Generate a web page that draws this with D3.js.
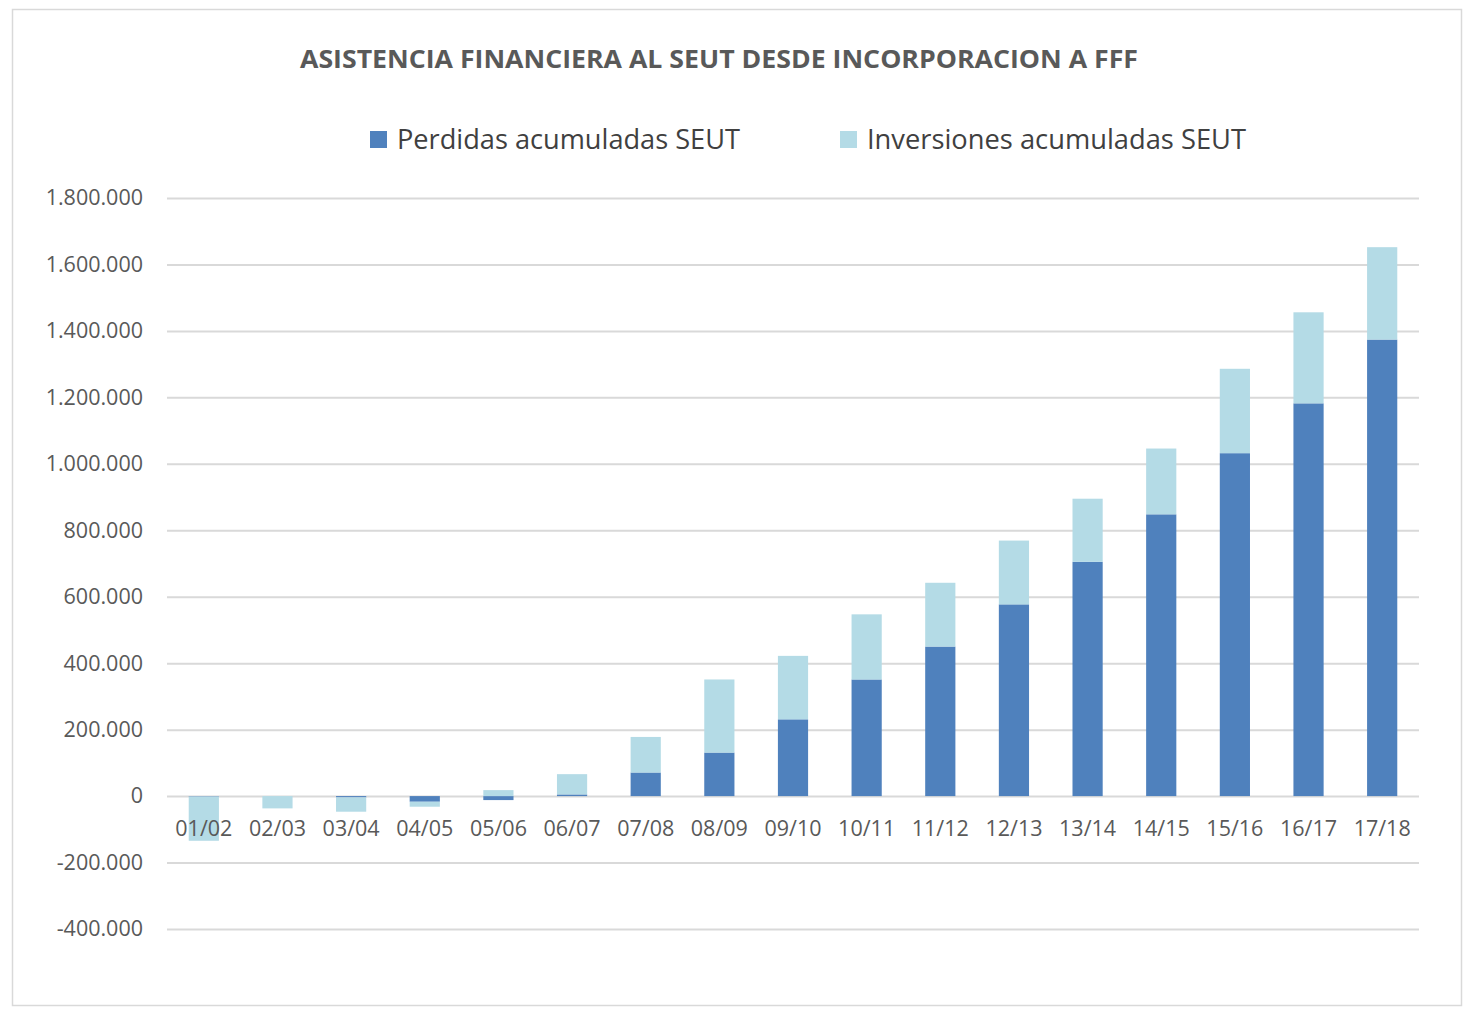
<!DOCTYPE html>
<html>
<head>
<meta charset="utf-8">
<script src="https://cdn.jsdelivr.net/npm/d3@7"></script>
<style>
    body { margin: 0; background: #fff; }
    svg text { font-family: "Open Sans", "Noto Sans", sans-serif; }
</style>
</head>
<body>
<div id="chart"></div>
<script>
// data
const temporadas = ["01/02", "02/03", "03/04", "04/05", "05/06", "06/07", "07/08", "08/09", "09/10",
    "10/11", "11/12", "12/13", "13/14", "14/15", "15/16", "16/17", "17/18"]
const perdidas = [-1500, 0, -4000, -17000, -12000, 5000, 71000, 131000, 231000,
    351000, 450000, 577000, 705000, 848000, 1032000, 1182000, 1374000]
const inversiones = [-133000, -37000, -43000, -15000, 18000, 61000, 107000, 220000, 191000,
    196000, 192000, 192000, 190000, 198000, 254000, 274000, 278000]
const yTicks = [-400000, -200000, 0, 200000, 400000, 600000, 800000, 1000000, 1200000, 1400000, 1600000, 1800000]
const seriesNames = ["Perdidas acumuladas SEUT", "Inversiones acumuladas SEUT"]

const colors = ["#4f81bd", "#b4dbe6"]

function drawChart() {
    const dims = {
        width: 1463,
        height: 1011,
        margin: { top: 198, right: 44, bottom: 82, left: 167 }
    }
    dims.boundedWidth = dims.width - dims.margin.left - dims.margin.right
    dims.boundedHeight = dims.height - dims.margin.top - dims.margin.bottom

    const svg = d3.select("#chart")
        .append("svg")
        .attr("width", dims.width)
        .attr("height", dims.height)

    // outer frame
    svg.append("rect")
        .attr("x", 12.5).attr("y", 9.5)
        .attr("width", 1449).attr("height", 996)
        .attr("fill", "#fff")
        .attr("stroke", "#d9d9d9")
        .attr("stroke-width", 1.5)

    const bounds = svg.append("g")
        .attr("transform", `translate(${dims.margin.left},${dims.margin.top})`)

    // table for the stack
    const table = temporadas.map((t, i) => ({
        temporada: t,
        perdidas: perdidas[i],
        inversiones: inversiones[i]
    }))

    const stacked = d3.stack()
        .keys(["perdidas", "inversiones"])
        .offset(d3.stackOffsetDiverging)(table)

    // scales
    const xScale = d3.scaleBand()
        .domain(temporadas)
        .range([0, dims.boundedWidth])
        .paddingInner(0.59)
        .paddingOuter(0.295)

    const yScale = d3.scaleLinear()
        .domain([-400000, 1800000])
        .range([dims.boundedHeight, 0])

    const fmt = v => d3.format(",")(v).replace(/,/g, ".").replace("−", "-")

    // gridlines
    const yAxis = bounds.append("g")
        .call(d3.axisLeft(yScale)
            .tickValues(yTicks)
            .tickSize(-dims.boundedWidth)
            .tickPadding(24)
            .tickFormat(fmt))
    yAxis.select(".domain").remove()
    yAxis.selectAll(".tick line")
        .attr("stroke", "#d9d9d9")
        .attr("stroke-width", 2)
    yAxis.selectAll(".tick text")
        .attr("fill", "#595959")
        .style("font-size", "21.5px")

    // bars
    bounds.append("g")
        .selectAll("g")
        .data(stacked)
        .join("g")
        .attr("fill", (d, i) => colors[i])
        .selectAll("rect")
        .data(d => d)
        .join("rect")
        .attr("x", d => xScale(d.data.temporada))
        .attr("width", xScale.bandwidth())
        .attr("y", d => yScale(Math.max(d[0], d[1])))
        .attr("height", d => Math.abs(yScale(d[0]) - yScale(d[1])))

    // category labels beside the zero line
    const xAxis = bounds.append("g")
        .attr("transform", `translate(0,${yScale(0)})`)
        .call(d3.axisBottom(xScale).tickSize(0).tickPadding(25))
    xAxis.select(".domain").remove()
    xAxis.selectAll(".tick text")
        .attr("fill", "#595959")
        .style("font-size", "21.5px")

    // title
    svg.append("text")
        .attr("x", 719)
        .attr("y", 68)
        .attr("text-anchor", "middle")
        .attr("fill", "#595959")
        .style("font-size", "25px")
        .style("font-weight", 700)
        .attr("textLength", 838)
        .attr("lengthAdjust", "spacingAndGlyphs")
        .text("ASISTENCIA FINANCIERA AL SEUT DESDE INCORPORACION A FFF")

    // legend
    const legendX = [370, 840]
    const legendW = [343, 379]
    const legend = svg.append("g")
        .selectAll("g")
        .data(seriesNames)
        .join("g")
        .attr("transform", (d, i) => `translate(${legendX[i]},131)`)
    legend.append("rect")
        .attr("width", 17).attr("height", 17)
        .attr("fill", (d, i) => colors[i])
    legend.append("text")
        .attr("x", 27)
        .attr("y", 18)
        .attr("fill", "#404040")
        .style("font-size", "27px")
        .attr("textLength", (d, i) => legendW[i])
        .attr("lengthAdjust", "spacingAndGlyphs")
        .text(d => d)
}
drawChart()
</script>
</body>
</html>
